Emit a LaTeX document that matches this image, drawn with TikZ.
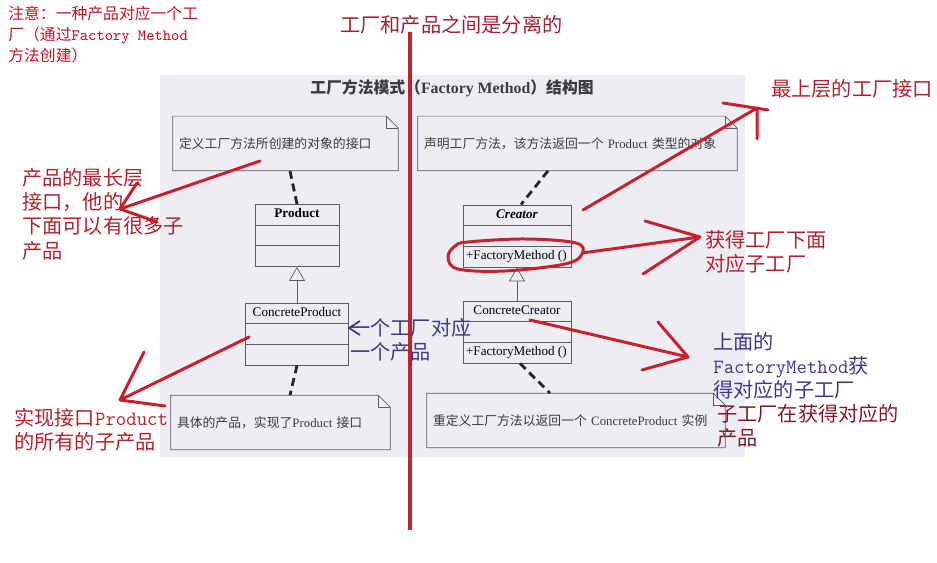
\documentclass[tikz,border=0pt]{standalone}
\usepackage{fontspec}
\setmainfont{Noto Sans CJK SC}
\newfontfamily\umlfont{Liberation Serif}
\usepackage{tikz}
\usetikzlibrary{shapes.multipart}
\usetikzlibrary{arrows.meta}
\usetikzlibrary{positioning}
\usetikzlibrary{calc}
\definecolor{panelbg}{HTML}{EEEDF4}
\definecolor{umlline}{HTML}{5C5C64}
\definecolor{notetxt}{HTML}{3A3A40}
\definecolor{penred}{HTML}{C8202C}
\definecolor{brightred}{HTML}{C41426}
\definecolor{inkred}{HTML}{B0222E}
\definecolor{deepred}{HTML}{9C2236}
\definecolor{darkred}{HTML}{7E1A2A}
\definecolor{inkblue}{HTML}{3A3A8C}
\newcommand{\umlstrut}{\rule[-0.12cm]{0pt}{0.36cm}}
\newcommand{\notefold}[1]{%
  \draw[umlline] (#1.south west) -- (#1.north west) -- ([xshift=-0.24cm]#1.north east)
    -- ([yshift=-0.24cm]#1.north east) -- (#1.south east) -- cycle;
  \draw[umlline] ([xshift=-0.24cm]#1.north east) -- ([xshift=-0.24cm,yshift=-0.24cm]#1.north east)
    -- ([yshift=-0.24cm]#1.north east);}
\tikzstyle{umlclass}=[
        rectangle split,
        rectangle split parts=3,
        rectangle split part align={center,left,left},
        draw=umlline,
        fill=panelbg,
        inner ysep=0.02cm,
        inner xsep=0.06cm,
        font=\umlfont\fontsize{7.5}{9}\selectfont
]
\tikzstyle{umlnote}=[rectangle,inner xsep=0.12cm,inner ysep=0pt,minimum height=1.08cm,
align=left,text=notetxt,font=\fontsize{7.3}{9}\selectfont]
\tikzstyle{notedash}=[line width=1.6pt,dash pattern=on 0.16cm off 0.1cm,black!85]
\tikzstyle{generalize}=[umlline,-{Triangle[open,length=0.28cm,width=0.32cm]}]
\tikzstyle{redpen}=[penred,line width=1.7pt,line cap=round,line join=round]
\tikzstyle{anno}=[anchor=north west,inner sep=0pt,align=left,font=\fontsize{11.5}{13.8}\selectfont]
\begin{document}
\begin{tikzpicture}[x=0.02cm,y=-0.02cm]
\useasboundingbox (0,0) rectangle (937,563);
\fill[panelbg] (160,75) rectangle (745,457);
\node[font=\bfseries\fontsize{9}{10}\selectfont,text=notetxt] (title) at (452,88)
  {工厂方法模式（{\umlfont Factory Method}）结构图};
% notes
\node[umlnote,text width=4.26cm] (n1) at (285.5,143.5) {定义工厂方法所创建的对象的接口};
\node[umlnote,text width=6.14cm] (n2) at (577.5,143.5) {声明工厂方法，该方法返回一个 {\umlfont Product} 类型的对象};
\node[umlnote,text width=4.14cm] (n3) at (280.5,422.5) {具体的产品，实现了{\umlfont Product} 接口};
\node[umlnote,text width=5.72cm] (n4) at (576,420.5) {重定义工厂方法以返回一个 {\umlfont ConcreteProduct} 实例};
\notefold{n1}
\notefold{n2}
\notefold{n3}
\notefold{n4}
% classes
\node[umlclass,minimum width=1.68cm] (product) at (297,235.5)
  {\textbf{Product}\umlstrut \nodepart{two}\umlstrut \nodepart{three}\umlstrut};
\node[umlclass,minimum width=2.06cm] (cproduct) at (297,334)
  {ConcreteProduct\umlstrut \nodepart{two}\umlstrut \nodepart{three}\umlstrut};
\node[umlclass,minimum width=2.16cm] (creator) at (517,236)
  {\textbf{\textit{Creator}}\umlstrut \nodepart{two}\umlstrut \nodepart{three}+FactoryMethod ()\umlstrut};
\node[umlclass,minimum width=2.16cm] (ccreator) at (517,332)
  {ConcreteCreator\umlstrut \nodepart{two}\umlstrut \nodepart{three}+FactoryMethod ()\umlstrut};
\draw[generalize] (cproduct.north) -- (product.south);
\draw[generalize] (ccreator.north) -- (creator.south);
\draw[notedash] ([xshift=0.09cm]n1.south) -- (product.north);
\draw[notedash] ([xshift=-0.59cm]n2.south) -- ([xshift=0.08cm]creator.north);
\draw[notedash] (cproduct.south) -- ([xshift=0.19cm]n3.north);
\draw[notedash] ([xshift=0.06cm]ccreator.south) -- ([xshift=-0.52cm]n4.north);
% red divider
\coordinate (divtop) at (410,32);
\coordinate (divbot) at (410,530);
\draw[penred,line width=2.4pt] (divtop) -- (divbot);
% annotations
\node[anno,text=brightred,font=\fontsize{9}{12}\selectfont] (warn) at (8,6)
  {注意：一种产品对应一个工\\厂（通过{\ttfamily Factory Method}\\方法创建）};
\node[anno,text=deepred] (split) at (340,15) {工厂和产品之间是分离的};
\node[anno,text=inkred] (topif) at (771,79) {最上层的工厂接口};
\node[anno,text=inkred] (prodif) at (22,168) {产品的最长层\\接口，他的\\下面可以有很多子\\产品};
\node[anno,text=inkred] (subs) at (14,408) {实现接口{\ttfamily Product}\\的所有的子产品};
\node[anno,text=inkred] (getsub) at (705,230) {获得工厂下面\\对应子工厂};
\node[anno,text=inkblue] (pair) at (350,318) {一个工厂对应\\一个产品};
\node[anno,text=inkblue] (above) at (713,332) {上面的\\{\ttfamily FactoryMethod}获\\得对应的子工厂};
\node[anno,text=darkred] (then) at (717,404) {子工厂在获得对应的\\产品};
% hand drawn arrows
\coordinate (s1) at (260,161);
\coordinate (t1) at (120,209);
\draw[redpen] (s1) -- (t1) -- +(17,-26);
\draw[redpen] (t1) -- +(37,13);
\coordinate (s2) at (249,337);
\coordinate (t2) at (120,400);
\draw[redpen] (s2) -- (t2) -- +(24,-48);
\draw[redpen] (t2) -- +(45,6);
\coordinate (s3) at (583,210);
\coordinate (t3) at (757,108);
\draw[redpen] (s3) -- (t3) -- +(0,31);
\draw[redpen] ($(t3)+(-34,-5)$) -- ($(t3)+(11,2)$);
\draw[redpen] plot[smooth cycle,tension=0.6] coordinates
  {(468,242) (525,239) (576,243) (582,254) (565,264) (505,271) (458,269) (448,257) (455,246)};
\coordinate (s4) at (582,253);
\coordinate (t4) at (700,237);
\draw[redpen] (s4) -- (t4) -- +(-55,-16);
\draw[redpen] (t4) -- +(-57,37);
\coordinate (s5) at (530,320);
\coordinate (t5) at (688,357);
\draw[redpen] (s5) -- (t5) -- +(-30,-35);
\draw[redpen] (t5) -- +(-46,13);
\coordinate (t6) at (349,328);
\draw[inkblue,line width=1pt] ($(t6)+(11,-7)$) -- (t6) -- +(11,7);
\end{tikzpicture}
\end{document}
